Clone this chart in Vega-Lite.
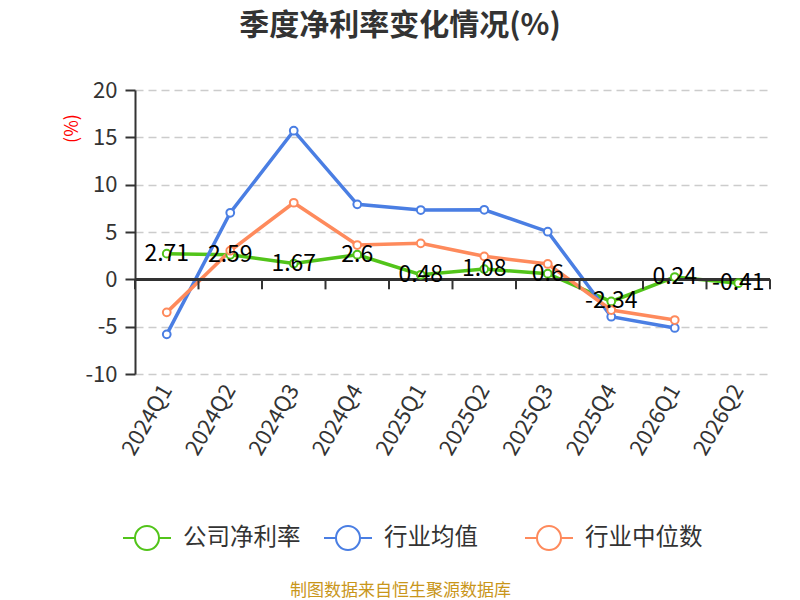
{
  "$schema": "https://vega.github.io/schema/vega-lite/v6.json",
  "width": 635,
  "height": 284,
  "autosize": {"type": "none"},
  "padding": {"left": 135, "top": 90, "right": 30, "bottom": 226},
  "background": "white",
  "title": {
    "text": "季度净利率变化情况(%)",
    "font": "Noto Sans CJK SC",
    "fontSize": 30,
    "fontWeight": "bold",
    "color": "#333333",
    "anchor": "middle",
    "frame": "group",
    "dx": -52.5,
    "offset": 38
  },
  "config": {
    "view": {"stroke": null},
    "font": "Noto Sans CJK SC",
    "legend": {
      "orient": "none",
      "direction": "horizontal",
      "legendX": -1,
      "legendY": 435,
      "padding": 0,
      "title": null,
      "labelFontSize": 23.5,
      "labelColor": "#333333",
      "labelFont": "Noto Sans CJK SC",
      "labelOffset": 23,
      "gridAlign": "all",
      "columnPadding": 19,
      "symbolType": "M-2,0H-1M1,0H2M-1,0A1,1 0 1 1 1,0A1,1 0 1 1 -1,0Z",
      "symbolSize": 576,
      "symbolStrokeWidth": 2,
      "symbolFillColor": "white"
    }
  },
  "data": {
    "values": [
      {"q": "2024Q1", "series": "公司净利率", "value": 2.71},
      {"q": "2024Q2", "series": "公司净利率", "value": 2.59},
      {"q": "2024Q3", "series": "公司净利率", "value": 1.67},
      {"q": "2024Q4", "series": "公司净利率", "value": 2.6},
      {"q": "2025Q1", "series": "公司净利率", "value": 0.48},
      {"q": "2025Q2", "series": "公司净利率", "value": 1.08},
      {"q": "2025Q3", "series": "公司净利率", "value": 0.6},
      {"q": "2025Q4", "series": "公司净利率", "value": -2.34},
      {"q": "2026Q1", "series": "公司净利率", "value": 0.24},
      {"q": "2026Q2", "series": "公司净利率", "value": -0.41},
      {"q": "2024Q1", "series": "行业均值", "value": -5.81},
      {"q": "2024Q2", "series": "行业均值", "value": 7.03},
      {"q": "2024Q3", "series": "行业均值", "value": 15.7},
      {"q": "2024Q4", "series": "行业均值", "value": 7.92},
      {"q": "2025Q1", "series": "行业均值", "value": 7.32},
      {"q": "2025Q2", "series": "行业均值", "value": 7.35},
      {"q": "2025Q3", "series": "行业均值", "value": 5.03},
      {"q": "2025Q4", "series": "行业均值", "value": -3.95},
      {"q": "2026Q1", "series": "行业均值", "value": -5.14},
      {"q": "2024Q1", "series": "行业中位数", "value": -3.49},
      {"q": "2024Q2", "series": "行业中位数", "value": 3.02},
      {"q": "2024Q3", "series": "行业中位数", "value": 8.09},
      {"q": "2024Q4", "series": "行业中位数", "value": 3.62},
      {"q": "2025Q1", "series": "行业中位数", "value": 3.8},
      {"q": "2025Q2", "series": "行业中位数", "value": 2.43},
      {"q": "2025Q3", "series": "行业中位数", "value": 1.62},
      {"q": "2025Q4", "series": "行业中位数", "value": -3.24},
      {"q": "2026Q1", "series": "行业中位数", "value": -4.3}
    ]
  },
  "layer": [
    {
      "mark": {"type": "line", "strokeWidth": 3.5},
      "encoding": {
        "x": {
          "field": "q",
          "type": "nominal",
          "sort": null,
          "scale": {"type": "band", "paddingInner": 0, "paddingOuter": 0},
          "axis": {
            "title": "制图数据来自恒生聚源数据库",
            "titleColor": "#c9961a",
            "titleFontSize": 17,
            "titleFontWeight": "normal",
            "titleX": 265,
            "titleY": 216,
            "titleBaseline": "middle",
            "domain": false,
            "ticks": false,
            "labelAngle": -60,
            "labelFontSize": 22,
            "labelColor": "#333333",
            "labelPadding": 12
          }
        },
        "y": {
          "field": "value",
          "type": "quantitative",
          "scale": {"domain": [-10, 20], "nice": false},
          "axis": {
            "title": "(%)",
            "titleColor": "#ff0000",
            "titleFontSize": 18,
            "titleFontWeight": "normal",
            "titleAngle": -90,
            "titleBaseline": "middle",
            "titleX": -63,
            "titleY": 38,
            "values": [-10, -5, 0, 5, 10, 15, 20],
            "labelExpr": "'' + datum.value",
            "labelFontSize": 22,
            "labelColor": "#333333",
            "labelPadding": 8,
            "tickSize": 10,
            "tickColor": "#333333",
            "tickWidth": 2,
            "domainColor": "#333333",
            "domainWidth": 2,
            "gridColor": "#cccccc",
            "gridDash": [8, 5],
            "gridWidth": 1.5
          }
        },
        "color": {
          "field": "series",
          "type": "nominal",
          "sort": null,
          "scale": {
            "domain": ["公司净利率", "行业均值", "行业中位数"],
            "range": ["#52c41a", "#4a7ee3", "#fe8a5c"]
          }
        }
      }
    },
    {
      "mark": {"type": "rule", "color": "#333333", "strokeWidth": 2},
      "encoding": {"y": {"datum": 0}}
    },
    {
      "transform": [{"filter": "datum.series === '公司净利率'"}],
      "mark": {"type": "rule", "color": "#333333", "strokeWidth": 2},
      "encoding": {
        "x": {"field": "q", "type": "nominal", "sort": null, "bandPosition": 0},
        "y": {"datum": 0},
        "y2": {"datum": -1.06}
      }
    },
    {
      "transform": [{"filter": "datum.series === '公司净利率' && datum.q === '2026Q2'"}],
      "mark": {"type": "rule", "color": "#333333", "strokeWidth": 2},
      "encoding": {
        "x": {"field": "q", "type": "nominal", "sort": null, "bandPosition": 1},
        "y": {"datum": 0},
        "y2": {"datum": -1.06}
      }
    },
    {
      "mark": {"type": "point", "filled": false, "fill": "white", "strokeWidth": 2, "size": 60, "opacity": 1},
      "encoding": {
        "x": {"field": "q", "type": "nominal", "sort": null},
        "y": {"field": "value", "type": "quantitative"},
        "color": {"field": "series", "type": "nominal", "sort": null}
      }
    },
    {
      "transform": [{"filter": "datum.series === '公司净利率'"}],
      "mark": {"type": "text", "fontSize": 23, "color": "#000000", "align": "center", "baseline": "middle", "font": "Noto Sans CJK SC"},
      "encoding": {
        "x": {"field": "q", "type": "nominal", "sort": null},
        "y": {"field": "value", "type": "quantitative"},
        "text": {"field": "value", "type": "nominal"}
      }
    }
  ]
}
